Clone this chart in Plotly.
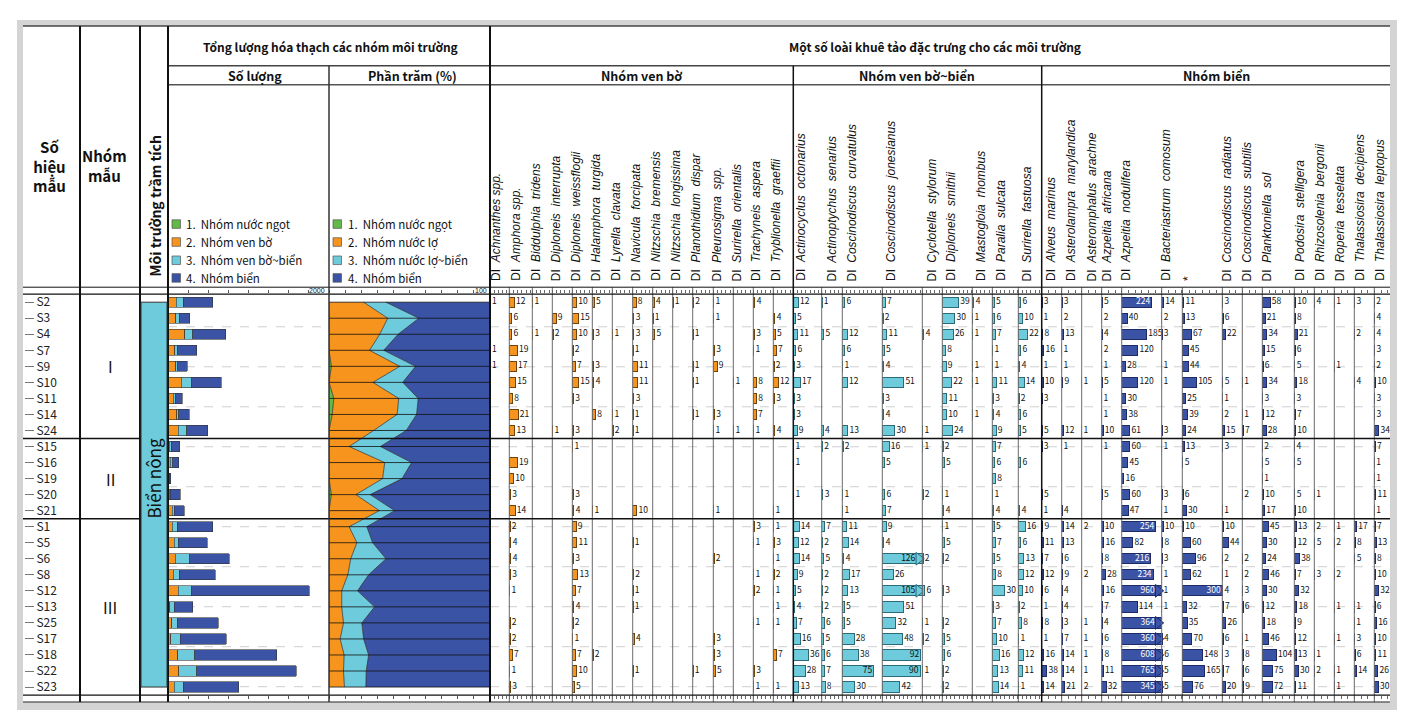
import plotly.graph_objects as go

W, H = 1412, 717


def px(x):
    return x / W


def py(y):
    return 1 - y / H


# ---------------- data ----------------
samples = ["S2", "S3", "S4", "S7", "S9", "S10", "S11", "S14", "S24",
           "S15", "S16", "S19", "S20", "S21",
           "S1", "S5", "S6", "S8", "S12", "S13", "S25", "S17", "S18", "S22", "S23"]
group_names = ["I", "II", "III"]
group_mid_sample = ["S9", "S19", "S13"]
group_break_after = [8.5, 13.5]

# Số lượng (counts) per environment group
cnt_green = [0, 0, 0, 0, 2, 0, 3, 2, 0, 0, 0, 0, 3, 0, 0, 0, 0, 0, 0, 0, 0, 0, 0, 0, 0]
cnt_orange = [105, 96, 209, 84, 96, 167, 63, 105, 130, 13, 29, 10, 12, 54,
              54, 75, 92, 67, 125, 21, 46, 33, 121, 134, 79]
cnt_cyan = [84, 46, 96, 29, 21, 126, 25, 25, 100, 29, 33, 4, 10, 21,
            63, 50, 176, 71, 171, 59, 71, 121, 209, 222, 113]
cnt_blue = [368, 126, 414, 247, 117, 368, 84, 130, 264, 105, 71, 18, 130, 126,
            439, 360, 494, 448, 1456, 230, 506, 569, 1021, 1234, 686]

# Phần trăm (%)
pct_green = [0, 0, 0, 0, 1.5, 0, 3, 2, 0, 0, 0, 0, 1.5, 0, 0, 0, 0, 0, 0, 0, 0, 0, 0, 0, 0]
pct_orange = [21.5, 36.5, 31.5, 25.2, 42.5, 27.3, 40.3, 40.3, 27.7, 12.5, 34.6, 33.3, 15.2, 31.3,
              12.5, 17.3, 13.5, 11.7, 7.9, 7.9, 9.0, 6.9, 9.4, 9.0, 9.6]
pct_cyan = [13.9, 19.3, 11.4, 8.8, 9.8, 18.5, 12.1, 12.1, 20.3, 19.4, 16.7, 12.1, 8.9, 9.5,
            11.0, 9.8, 21.9, 12.9, 9.8, 20.4, 11.4, 14.6, 15.2, 14.1, 13.3]
pct_blue = [64.6, 44.2, 57.1, 66.0, 46.2, 54.2, 44.6, 45.6, 52.0, 68.1, 48.7, 54.6, 74.4, 59.2,
            76.5, 72.9, 64.6, 75.4, 82.3, 71.7, 79.6, 78.5, 75.4, 76.9, 77.1]

legend_count = ["1.\u00a0\u00a0Nhóm nước ngọt", "2.\u00a0\u00a0Nhóm ven bờ",
                "3.\u00a0\u00a0Nhóm ven bờ~biển", "4.\u00a0\u00a0Nhóm biển"]
legend_pct = ["1.\u00a0\u00a0Nhóm nước ngọt", "2.\u00a0\u00a0Nhóm nước lợ",
              "3.\u00a0\u00a0Nhóm nước lợ~biển", "4.\u00a0\u00a0Nhóm biển"]

# Nhóm ven bờ
venbo_names = ["Achnanthes spp.", "Amphora spp.", "Biddulphia  tridens", "Diploneis  interrupta",
               "Diploneis  weissflogii", "Halamphora  turgida", "Lyrella  clavata",
               "Navicula  forcipata", "Nitzschia  bremensis", "Nitzschia  longissima",
               "Planothidium  dispar", "Pleurosigma  spp.", "Surirella  orientalis",
               "Trachyneis  aspera", "Tryblionella  graeffii"]
venbo_values = [
    [1, 0, 0, 1, 1, 0, 0, 0, 0, 0, 0, 0, 0, 0, 0, 0, 0, 0, 0, 0, 0, 0, 0, 0, 0],
    [12, 6, 6, 19, 17, 15, 8, 21, 13, 0, 19, 10, 3, 14, 2, 4, 4, 3, 1, 0, 2, 2, 7, 1, 3],
    [1, 0, 1, 0, 0, 0, 0, 0, 0, 0, 0, 0, 0, 0, 0, 0, 0, 0, 0, 0, 0, 0, 0, 0, 0],
    [0, 9, 2, 0, 0, 0, 0, 0, 1, 0, 0, 0, 0, 0, 0, 0, 0, 0, 0, 0, 0, 0, 0, 0, 0],
    [10, 15, 10, 2, 7, 15, 3, 0, 3, 1, 0, 0, 3, 4, 9, 11, 3, 13, 7, 4, 2, 1, 7, 10, 5],
    [5, 0, 3, 0, 3, 4, 0, 8, 0, 0, 0, 0, 0, 1, 0, 0, 0, 0, 0, 0, 0, 0, 2, 0, 0],
    [0, 0, 1, 0, 0, 0, 0, 1, 2, 0, 0, 0, 0, 0, 0, 0, 0, 0, 0, 0, 0, 0, 0, 0, 0],
    [8, 3, 3, 1, 11, 11, 3, 1, 1, 0, 0, 0, 0, 10, 0, 1, 0, 2, 1, 1, 0, 4, 0, 1, 0],
    [4, 1, 5, 0, 0, 0, 0, 0, 0, 0, 0, 0, 0, 0, 0, 0, 0, 0, 0, 0, 0, 0, 0, 0, 0],
    [1, 0, 0, 0, 0, 0, 0, 0, 0, 0, 0, 0, 0, 0, 0, 0, 0, 0, 0, 0, 0, 0, 0, 0, 0],
    [2, 0, 1, 0, 1, 1, 0, 1, 0, 0, 0, 0, 0, 0, 0, 0, 0, 0, 0, 0, 0, 0, 0, 1, 0],
    [1, 1, 0, 3, 9, 0, 0, 3, 1, 0, 0, 0, 0, 1, 0, 0, 2, 0, 0, 0, 0, 3, 3, 5, 0],
    [0, 0, 0, 0, 0, 1, 0, 0, 1, 0, 0, 0, 0, 0, 0, 0, 0, 0, 0, 0, 0, 0, 0, 0, 0],
    [4, 0, 3, 1, 0, 8, 8, 7, 1, 0, 0, 0, 0, 0, 3, 1, 0, 1, 2, 0, 1, 0, 0, 3, 1],
    [0, 4, 5, 7, 2, 12, 3, 0, 4, 0, 0, 0, 0, 1, 1, 3, 1, 2, 1, 1, 1, 0, 7, 0, 1],
]

# Nhóm ven bờ~biển
vbb_names = ["Actinocyclus  octonarius", "Actinoptychus  senarius", "Coscinodiscus  curvatulus",
             "Coscinodiscus  jonesianus", "Cyclotella  stylorum", "Diploneis  smithii",
             "Mastogloia  rhombus", "Paralia  sulcata", "Surirella  fastuosa"]
vbb_values = [
    [12, 5, 11, 6, 3, 17, 3, 3, 9, 1, 1, 0, 1, 0, 14, 12, 14, 9, 5, 4, 7, 16, 36, 28, 13],
    [1, 0, 5, 0, 0, 0, 0, 0, 4, 2, 0, 0, 3, 0, 7, 2, 5, 2, 2, 2, 6, 5, 6, 7, 8],
    [6, 0, 12, 6, 1, 12, 0, 0, 13, 2, 0, 0, 1, 1, 11, 14, 4, 17, 13, 5, 5, 28, 38, 75, 30],
    [7, 2, 11, 5, 4, 51, 3, 4, 30, 16, 5, 0, 6, 7, 9, 4, 126, 26, 105, 51, 32, 48, 92, 90, 42],
    [0, 0, 4, 0, 0, 0, 0, 0, 1, 1, 0, 0, 2, 0, 0, 0, 2, 0, 6, 0, 1, 2, 0, 1, 0],
    [39, 30, 26, 8, 9, 22, 11, 10, 24, 2, 5, 0, 1, 4, 1, 5, 2, 0, 3, 0, 2, 5, 6, 2, 2],
    [4, 1, 1, 0, 1, 1, 0, 1, 0, 0, 0, 0, 0, 0, 0, 0, 0, 0, 0, 0, 0, 0, 0, 0, 0],
    [5, 6, 7, 1, 1, 11, 3, 4, 9, 7, 6, 8, 1, 4, 5, 7, 5, 8, 30, 3, 7, 10, 16, 13, 14],
    [6, 10, 22, 6, 4, 14, 2, 6, 5, 0, 6, 0, 0, 4, 16, 6, 13, 12, 10, 2, 8, 1, 12, 11, 1],
]

# Nhóm biển
bien_names = ["Alveus  marinus", "Asterolampra  marylandica", "Asteromphalus  arachne",
              "Azpeitia  africana", "Azpeitia  nodulifera", "Bacteriastrum  comosum", "*",
              "Coscinodiscus  radiatus", "Coscinodiscus  subtilis", "Planktoniella  sol",
              "Podosira  stelligera", "Rhizosolenia  bergonii", "Roperia  tesselata",
              "Thalassiosira  decipiens", "Thalassiosira  leptopus"]
bien_values = [
    [3, 1, 8, 16, 1, 10, 3, 0, 5, 3, 0, 0, 5, 1, 9, 11, 7, 12, 6, 1, 8, 1, 16, 38, 14],
    [3, 2, 13, 1, 1, 9, 0, 0, 12, 1, 0, 0, 0, 4, 14, 13, 6, 9, 4, 4, 3, 7, 14, 14, 21],
    [0, 0, 0, 0, 0, 1, 0, 0, 1, 0, 0, 0, 0, 0, 2, 0, 0, 2, 0, 0, 1, 1, 1, 1, 2],
    [5, 2, 4, 2, 1, 5, 1, 1, 10, 1, 0, 0, 5, 0, 10, 16, 8, 28, 16, 7, 4, 6, 8, 11, 32],
    [224, 40, 185, 120, 28, 120, 30, 38, 61, 60, 45, 16, 60, 47,
     254, 82, 216, 234, 960, 114, 364, 360, 608, 765, 345],
    [14, 2, 3, 0, 1, 1, 0, 0, 3, 1, 0, 0, 3, 1, 10, 8, 3, 1, 1, 1, 0, 4, 6, 5, 5],
    [11, 13, 67, 45, 44, 105, 25, 39, 24, 13, 5, 0, 6, 30, 10, 60, 96, 62, 300, 32, 35, 70, 148, 165, 76],
    [3, 6, 22, 0, 0, 5, 1, 2, 15, 3, 0, 0, 0, 1, 10, 44, 2, 1, 4, 7, 26, 6, 3, 7, 20],
    [0, 0, 0, 0, 0, 1, 0, 1, 7, 0, 0, 0, 2, 0, 0, 0, 2, 2, 3, 6, 0, 1, 8, 6, 9],
    [58, 21, 34, 15, 6, 34, 3, 12, 28, 2, 5, 1, 10, 17, 45, 30, 24, 46, 30, 12, 18, 46, 104, 75, 72],
    [10, 8, 21, 6, 5, 18, 3, 7, 10, 4, 5, 0, 5, 10, 13, 12, 38, 7, 32, 18, 9, 12, 13, 30, 11],
    [4, 0, 0, 0, 0, 0, 0, 0, 0, 0, 0, 0, 1, 0, 2, 5, 0, 3, 0, 0, 0, 0, 1, 2, 0],
    [1, 0, 0, 0, 1, 0, 0, 0, 0, 0, 0, 0, 0, 0, 1, 2, 0, 2, 0, 1, 0, 1, 0, 1, 1],
    [3, 0, 2, 0, 0, 4, 0, 0, 0, 0, 0, 0, 0, 0, 17, 8, 5, 0, 0, 1, 1, 3, 6, 14, 0],
    [2, 4, 4, 3, 2, 10, 3, 3, 34, 7, 1, 1, 11, 1, 7, 13, 8, 10, 32, 6, 16, 10, 11, 26, 30],
]

# ---------------- layout geometry (pixels) ----------------
venbo_edges = [490, 509.3, 532.3, 552.3, 572.3, 592.3, 612.3, 632.7, 652.7, 672.7, 692.7,
               713.3, 733.3, 753.3, 773.3, 793.3]
venbo_hdr = [496.7, 516, 536, 556, 576, 596, 616, 636, 656, 676, 696, 716.7, 736.7, 756.7, 776.7]
vbb_edges = [793.3, 821.7, 842.3, 882.3, 922.3, 942.3, 972.3, 992.3, 1018.3, 1041.7]
vbb_hdr = [801, 831.7, 851.7, 891.7, 931.7, 951, 981.7, 1001, 1026.7]
bien_edges = [1041.7, 1061.7, 1081.7, 1101.7, 1121.7, 1161.7, 1182.3, 1222.3, 1242.3, 1262.3,
              1294.3, 1314.3, 1334.3, 1354.3, 1374.3, 1390]
bien_hdr = [1051.7, 1071.7, 1091.7, 1106.7, 1126, 1166, 1187.3, 1226.7, 1246.7, 1266.7,
            1300, 1320, 1340, 1360, 1380]

Y_TOP, Y_BOT = 293, 695

C_GREEN, C_ORANGE, C_CYAN, C_BLUE = "#63b946", "#f7941d", "#6dcbdb", "#3a53a4"
NARROW = "Noto Sans CJK SC, Roboto, sans-serif"
SANS = "Liberation Sans, Arial, sans-serif"

fig = go.Figure()
layout_axes = {}
shapes = []
annotations = []

# background frame
shapes.append(dict(type="rect", xref="paper", yref="paper", x0=px(17), x1=px(1397), y0=py(710), y1=py(18),
                   fillcolor="#d4d4d4", line=dict(width=0), layer="below"))
shapes.append(dict(type="rect", xref="paper", yref="paper", x0=px(23), x1=px(1390), y0=py(703), y1=py(24),
                   fillcolor="white", line=dict(width=0), layer="below"))

# dashed depth grid lines
for k in range(10):
    yy = 325.7 + 40.1 * k
    for (a, b) in [(168, 329), (490, 1390)]:
        shapes.append(dict(type="line", xref="paper", yref="paper", x0=px(a), x1=px(b), y0=py(yy), y1=py(yy),
                           line=dict(color="#cfcfcf", width=1, dash="dash"), layer="below"))

# ---------- count panel (x) ----------
for vals, col in [(cnt_green, C_GREEN), (cnt_orange, C_ORANGE), (cnt_cyan, C_CYAN), (cnt_blue, C_BLUE)]:
    fig.add_trace(go.Bar(x=vals, y=samples, orientation="h", xaxis="x", yaxis="y",
                         marker=dict(color=col, line=dict(color="#333333", width=0.6)),
                         showlegend=False, hoverinfo="x+y"))
layout_axes["xaxis"] = dict(domain=[px(168), px(329)], range=[0, 2000], anchor="y", side="top",
                            showgrid=False, zeroline=False, showticklabels=False, ticks="outside",
                            ticklen=3, tickcolor="#555", dtick=250, mirror="ticks", fixedrange=True)

# ---------- percent panel (x2) ----------
for vals, col in [(pct_green, C_GREEN), (pct_orange, C_ORANGE), (pct_cyan, C_CYAN), (pct_blue, C_BLUE)]:
    fig.add_trace(go.Scatter(x=vals, y=samples, orientation="h", stackgroup="pct", mode="lines",
                             xaxis="x2", yaxis="y", fillcolor=col,
                             line=dict(color="#2a2a2a", width=0.7), showlegend=False))
layout_axes["xaxis2"] = dict(domain=[px(329), px(490)], range=[0, 100], anchor="y", side="top",
                             showgrid=False, zeroline=False, showticklabels=False, ticks="outside",
                             ticklen=3, tickcolor="#555", dtick=10, mirror="ticks", fixedrange=True)
for s in samples:
    shapes.append(dict(type="line", xref="paper", yref="y", x0=px(329), x1=px(490), y0=s, y1=s,
                       line=dict(color="#111", width=0.8), layer="above"))

# ---------- species columns ----------
groups = [
    (venbo_names, venbo_values, venbo_edges, venbo_hdr, 0.42, C_ORANGE, "#6b4410", "#111"),
    (vbb_names, vbb_values, vbb_edges, vbb_hdr, 0.42, C_CYAN, "#2b6a78", "#111"),
    (bien_names, bien_values, bien_edges, bien_hdr, 0.135, C_BLUE, "#1c2a66", "white"),
]
ax_i = 3
for names, values, edges, hdrs, scale, color, edge, in_col in groups:
    for j, (name, vals) in enumerate(zip(names, values)):
        left, right = edges[j], edges[j + 1]
        width_px = right - left
        rmax = width_px / scale
        ax = "x%d" % ax_i
        idx = [i for i, v in enumerate(vals) if v]
        ys = [samples[i] for i in idx]
        vs = [vals[i] for i in idx]
        xs = [min(v, rmax) for v in vs]
        fig.add_trace(go.Bar(x=xs, y=ys, orientation="h", xaxis=ax, yaxis="y",
                             marker=dict(color=color, line=dict(color=edge, width=1)),
                             showlegend=False, hovertext=[str(v) for v in vs], hoverinfo="text+y"))
        ox, oy, ot, ix, iy, it, axx, ayy = [], [], [], [], [], [], [], []
        for v, x, y in zip(vs, xs, ys):
            bar_px = v * scale
            lab_w = len(str(v)) * 4.6 + 2
            clipped = bar_px > width_px + 3
            if clipped:
                axx.append(rmax - 3.5 / scale)
                ayy.append(y)
                ix.append(rmax - 7 / scale)
                iy.append(y)
                it.append(str(v))
            elif bar_px + lab_w <= width_px + 1:
                ox.append(x)
                oy.append(y)
                ot.append("\u2009" + str(v))
            else:
                ix.append(x)
                iy.append(y)
                it.append(str(v) + "\u2009")
        if axx:
            fig.add_trace(go.Scatter(x=axx, y=ayy, mode="markers", xaxis=ax, yaxis="y",
                                     marker=dict(symbol="triangle-right", size=11, color=color,
                                                 line=dict(color=edge, width=1)),
                                     showlegend=False, hoverinfo="skip", cliponaxis=False))
        if ox:
            fig.add_trace(go.Scatter(x=ox, y=oy, mode="text", text=ot, textposition="middle right",
                                     xaxis=ax, yaxis="y", cliponaxis=False, showlegend=False,
                                     hoverinfo="skip",
                                     textfont=dict(family=NARROW, size=8.5, color="#111")))
        if ix:
            fig.add_trace(go.Scatter(x=ix, y=iy, mode="text", text=it, textposition="middle left",
                                     xaxis=ax, yaxis="y", cliponaxis=False, showlegend=False,
                                     hoverinfo="skip",
                                     textfont=dict(family=NARROW, size=8.5, color=in_col)))
        layout_axes["xaxis%d" % ax_i] = dict(
            domain=[px(left), px(right)], range=[0, rmax], anchor="y", side="top",
            showgrid=False, zeroline=False, showticklabels=False, ticks="outside", ticklen=3,
            tickcolor="#666", dtick=(10 if scale > 0.3 else 50), mirror="ticks", fixedrange=True)
        # header label
        if name == "*":
            label = "*"
        else:
            label = "DI\u00a0\u00a0<i>" + name.replace("  ", "\u00a0\u00a0") + "</i>"
        annotations.append(dict(text=label, x=px(hdrs[j]), y=py(282), xref="paper", yref="paper",
                                xanchor="center", yanchor="bottom", textangle=-90, showarrow=False,
                                font=dict(family=SANS, size=12, color="#111")))
        # column separators
        if j > 0:
            shapes.append(dict(type="line", xref="paper", yref="paper", x0=px(left), x1=px(left),
                               y0=py(702), y1=py(286), line=dict(color="#6a6a6a", width=1), layer="above"))
        ax_i += 1


# ---------- table lines ----------
def hline(y, x0, x1, color="#111", width=1):
    shapes.append(dict(type="line", xref="paper", yref="paper", x0=px(x0), x1=px(x1), y0=py(y), y1=py(y),
                       line=dict(color=color, width=width), layer="above"))


def vline(x, y0, y1, color="#111", width=1):
    shapes.append(dict(type="line", xref="paper", yref="paper", x0=px(x), x1=px(x), y0=py(y0), y1=py(y1),
                       line=dict(color=color, width=width), layer="above"))


hline(24, 23, 1390, "#444", 1.5)
hline(64, 168, 1390, "#444", 1.5)
hline(83, 168, 1390, "#555", 1.5)
hline(286, 23, 1390, "#111", 1)
hline(293, 23, 1390, "#111", 1.2)
hline(695, 23, 1390, "#111", 1.2)
hline(702, 23, 1390, "#111", 1)
for b in group_break_after:
    shapes.append(dict(type="line", xref="paper", yref="y", x0=px(23), x1=px(1390), y0=b, y1=b,
                       line=dict(color="#111", width=1.5), layer="above"))
for x in [80, 140, 168, 490]:
    vline(x, 24, 702, "#111", 2)
vline(329, 64, 702, "#333", 1.5)
vline(793.3, 64, 702, "#111", 1.5)
vline(1041.7, 64, 702, "#111", 1.5)

# Biển nông column
shapes.append(dict(type="rect", xref="paper", yref="y", x0=px(141), x1=px(167), y0=0, y1=len(samples) - 1,
                   fillcolor=C_CYAN, line=dict(color="#333", width=1), layer="above"))
annotations.append(dict(text="Biển nông", x=px(154), yref="y", y=group_mid_sample[1], xref="paper",
                        xanchor="center", yanchor="middle", textangle=-90, showarrow=False,
                        font=dict(family=NARROW, size=17, color="#111")))

# group labels
for gname, ms in zip(group_names, group_mid_sample):
    annotations.append(dict(text=gname, x=px(110), xref="paper", y=ms, yref="y", showarrow=False,
                            xanchor="center", yanchor="middle",
                            font=dict(family=NARROW, size=16, color="#111")))


# header texts
def head(text, x, y, size=14, angle=0):
    annotations.append(dict(text="<b>" + text + "</b>", x=px(x), y=py(y), xref="paper", yref="paper",
                            xanchor="center", yanchor="middle", showarrow=False, textangle=angle,
                            font=dict(family=NARROW, size=size, color="#111")))


head("Số<br>hiệu<br>mẫu", 49, 164, 15)
head("Nhóm<br>mẫu", 105, 164, 15)
head("Môi trường trầm tích", 155, 205, 14, -90)
head("Tổng lượng hóa thạch các nhóm môi trường", 330, 45, 12)
head("Số lượng", 255, 74, 12.5)
head("Phần trăm (%)", 412, 74, 12.5)
head("Một số loài khuê tảo đặc trưng cho các môi trường", 935, 45, 12)
head("Nhóm ven bờ", 641, 74, 12.5)
head("Nhóm ven bờ~biển", 917, 74, 12.5)
head("Nhóm biển", 1216, 74, 12.5)

# scale labels
annotations.append(dict(text="2000", x=px(327), y=py(289.5), xref="paper", yref="paper", xanchor="right",
                        yanchor="middle", showarrow=False, font=dict(family=SANS, size=7, color="#111")))
annotations.append(dict(text="100", x=px(489), y=py(289.5), xref="paper", yref="paper", xanchor="right",
                        yanchor="middle", showarrow=False, font=dict(family=SANS, size=7, color="#111")))

# legends
leg_y = [222.7, 240.7, 259, 276.7]
for col, t1, t2, yy in zip([C_GREEN, C_ORANGE, C_CYAN, C_BLUE], legend_count, legend_pct, leg_y):
    for sx, tx, t in [(172, 184, t1), (333, 346, t2)]:
        shapes.append(dict(type="rect", xref="paper", yref="paper", x0=px(sx), x1=px(sx + 8.5),
                           y0=py(yy + 4.3), y1=py(yy - 4.3), fillcolor=col,
                           line=dict(color="#555", width=0.7), layer="above"))
        annotations.append(dict(text=t, x=px(tx), y=py(yy), xref="paper", yref="paper", xanchor="left",
                                yanchor="middle", showarrow=False,
                                font=dict(family=NARROW, size=11.5, color="#111")))

fig.update_layout(
    width=W, height=H, margin=dict(l=0, r=0, t=0, b=0),
    paper_bgcolor="white", plot_bgcolor="rgba(0,0,0,0)",
    barmode="stack", bargap=0.36, showlegend=False,
    shapes=shapes, annotations=annotations,
    yaxis=dict(domain=[py(Y_BOT), py(Y_TOP)], type="category", categoryorder="array",
               categoryarray=samples, range=[len(samples) - 0.5, -0.5], anchor="free", position=px(24),
               side="right", ticks="outside", ticklen=9, tickcolor="#777", tickwidth=1.2,
               showgrid=False, zeroline=False, showline=False, fixedrange=True,
               tickfont=dict(family=NARROW, size=12, color="#222")),
    **layout_axes,
)

fig.write_html("out.html", config={"displayModeBar": False},
               post_script="document.body.style.margin='0';")
